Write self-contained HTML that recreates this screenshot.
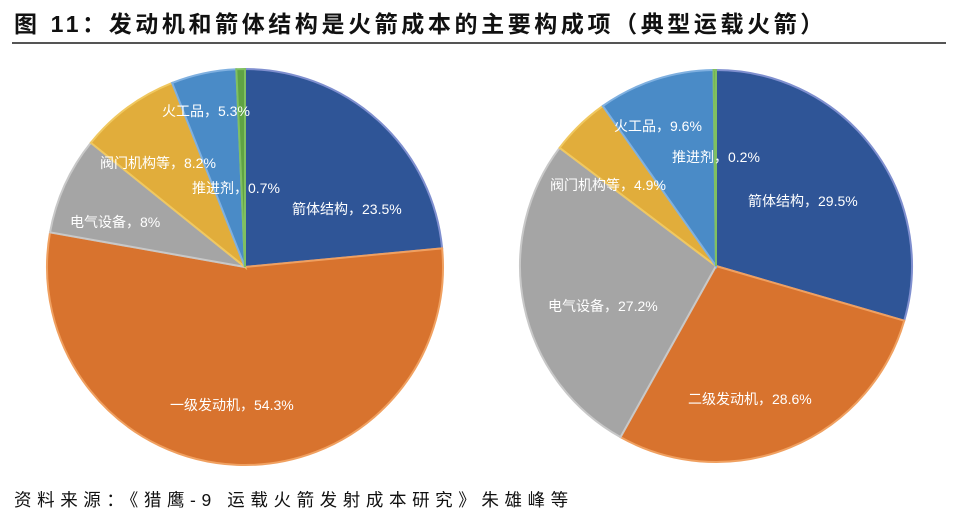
<!DOCTYPE html>
<html><head><meta charset="utf-8">
<style>
body{margin:0;width:962px;height:529px;background:#fff;overflow:hidden;font-family:"Liberation Sans","Noto Sans CJK SC",sans-serif;}
#title{position:absolute;left:14px;top:5px;font-size:23px;font-weight:bold;color:#111;letter-spacing:3.6px;white-space:nowrap;}
#rule{position:absolute;left:12px;top:42px;width:934px;height:2px;background:#555;}
#source{position:absolute;left:14px;top:487px;font-size:17.5px;color:#111;letter-spacing:5.6px;white-space:nowrap;}
svg{position:absolute;left:0;top:0;}
</style></head><body>
<div id="title">图 11：发动机和箭体结构是火箭成本的主要构成项（典型运载火箭）</div>
<div id="rule"></div>
<svg id="chart" width="962" height="529"></svg>
<div id="source">资料来源：《猎鹰-9 运载火箭发射成本研究》朱雄峰等</div>
<script>
const leftCategories = ["箭体结构","一级发动机","电气设备","阀门机构等","火工品","推进剂"];
const leftValues = [23.5,54.3,8,8.2,5.3,0.7];
const rightCategories = ["箭体结构","二级发动机","电气设备","阀门机构等","火工品","推进剂"];
const rightValues = [29.5,28.6,27.2,4.9,9.6,0.2];
const colors = ["#2f5597","#d8732e","#a5a5a5","#e1ad3b","#4a8bc7","#5fa344"];
const rims = ["#7f8fcf","#f0a060","#c8c8c8","#f0c860","#7fb0e0","#80c060"];

const svg = document.getElementById('chart');
const NS = "http://www.w3.org/2000/svg";
function pt(cx,cy,r,frac){const a=frac*2*Math.PI-Math.PI/2;return [cx+r*Math.cos(a),cy+r*Math.sin(a)];}
function drawPie(name,cats,vals,cx,cy,r,labelPos){
  const total = vals.reduce((a,b)=>a+b,0);
  let acc=0;
  vals.forEach((v,i)=>{
    const f0=acc/total, f1=(acc+v)/total; acc+=v;
    const p0=pt(cx,cy,r,f0), p1=pt(cx,cy,r,f1);
    const large=(f1-f0)>0.5?1:0;
    const path=document.createElementNS(NS,'path');
    path.setAttribute('d',`M${cx},${cy}L${p0[0]},${p0[1]}A${r},${r} 0 ${large} 1 ${p1[0]},${p1[1]}Z`);
    path.setAttribute('fill',colors[i]);
    path.setAttribute('stroke',rims[i]);
    path.setAttribute('stroke-width','2');
    
    
    svg.appendChild(path);
  });
  vals.forEach((v,i)=>{
    const t=document.createElementNS(NS,'text');
    t.setAttribute('x',labelPos[i][0]);
    t.setAttribute('y',labelPos[i][1]);
    t.setAttribute('fill','#fff');
    t.setAttribute('font-size','14');
    t.setAttribute('font-family','"Liberation Sans","Noto Sans CJK SC",sans-serif');
    t.textContent=cats[i]+'，'+v+'%';
    
    
    svg.appendChild(t);
  });
}
drawPie('left-pie',leftCategories,leftValues,245,267,198,
  [[292,214],[170,410],[70,227],[100,168],[162,116],[192,193]]);
drawPie('right-pie',rightCategories,rightValues,716,266,196,
  [[748,206],[688,404],[548,311],[550,190],[614,131],[672,162]]);
</script>
</body></html>
